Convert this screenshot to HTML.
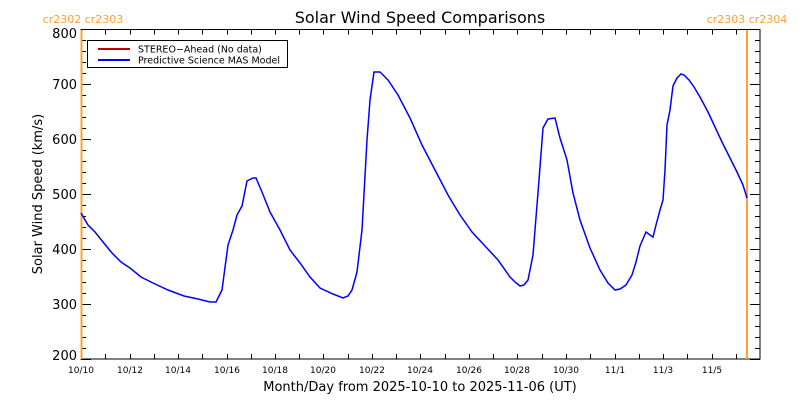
<!DOCTYPE html>
<html><head><meta charset="utf-8"><style>body{margin:0;background:#fff}svg{display:block}text{font-family:"DejaVu Sans","Liberation Sans",sans-serif}</style></head><body>
<svg width="800" height="400" xmlns="http://www.w3.org/2000/svg">
<rect width="800" height="400" fill="#fff"/>
<text x="420" y="23" font-size="16" text-anchor="middle">Solar Wind Speed Comparisons</text>
<text x="83" y="23" font-size="11" fill="#ffa030" text-anchor="middle">cr2302 cr2303</text>
<text x="747" y="23" font-size="11" fill="#ffa030" text-anchor="middle">cr2303 cr2304</text>
<rect x="81" y="29.5" width="679" height="329.5" fill="none" stroke="#000" stroke-width="1"/>
<path stroke="#000" stroke-width="1" fill="none" d="
M81 359.5h10M81 348.5h5M81 337.5h5M81 326.5h5M81 315.5h5M81 304.5h10M81 293.5h5M81 282.5h5M81 271.5h5M81 260.5h5M81 249.5h10M81 238.5h5M81 227.5h5M81 216.5h5M81 205.5h5M81 194.5h10M81 183.5h5M81 172.5h5M81 161.5h5M81 150.5h5M81 139.5h10M81 128.5h5M81 117.5h5M81 106.5h5M81 95.5h5M81 84.5h10M81 73.5h5M81 62.5h5M81 51.5h5M81 40.5h5M81 29.5h10
M760 359.5h-10M760 348.5h-5M760 337.5h-5M760 326.5h-5M760 315.5h-5M760 304.5h-10M760 293.5h-5M760 282.5h-5M760 271.5h-5M760 260.5h-5M760 249.5h-10M760 238.5h-5M760 227.5h-5M760 216.5h-5M760 205.5h-5M760 194.5h-10M760 183.5h-5M760 172.5h-5M760 161.5h-5M760 150.5h-5M760 139.5h-10M760 128.5h-5M760 117.5h-5M760 106.5h-5M760 95.5h-5M760 84.5h-10M760 73.5h-5M760 62.5h-5M760 51.5h-5M760 40.5h-5M760 29.5h-10
M105.5 359v-5M130.5 359v-5M154.5 359v-5M178.5 359v-5M202.5 359v-5M227.5 359v-5M251.5 359v-5M275.5 359v-5M299.5 359v-5M323.5 359v-5M348.5 359v-5M372.5 359v-5M396.5 359v-5M420.5 359v-5M445.5 359v-5M469.5 359v-5M493.5 359v-5M517.5 359v-5M542.5 359v-5M566.5 359v-5M590.5 359v-5M615.5 359v-5M639.5 359v-5M663.5 359v-5M687.5 359v-5M712.5 359v-5M736.5 359v-5
M105.5 29.5v5M130.5 29.5v5M154.5 29.5v5M178.5 29.5v5M202.5 29.5v5M227.5 29.5v5M251.5 29.5v5M275.5 29.5v5M299.5 29.5v5M323.5 29.5v5M348.5 29.5v5M372.5 29.5v5M396.5 29.5v5M420.5 29.5v5M445.5 29.5v5M469.5 29.5v5M493.5 29.5v5M517.5 29.5v5M542.5 29.5v5M566.5 29.5v5M590.5 29.5v5M615.5 29.5v5M639.5 29.5v5M663.5 29.5v5M687.5 29.5v5M712.5 29.5v5M736.5 29.5v5"/>
<g font-size="13" text-anchor="end">
<text x="77" y="360">200</text><text x="77" y="309">300</text><text x="77" y="254">400</text><text x="77" y="199">500</text><text x="77" y="144">600</text><text x="77" y="89">700</text><text x="77" y="38">800</text>
</g>
<g font-size="9" text-anchor="middle">
<text x="81" y="373">10/10</text><text x="130" y="373">10/12</text><text x="178" y="373">10/14</text><text x="227" y="373">10/16</text><text x="275" y="373">10/18</text><text x="323" y="373">10/20</text><text x="372" y="373">10/22</text><text x="420" y="373">10/24</text><text x="469" y="373">10/26</text><text x="517" y="373">10/28</text><text x="566" y="373">10/30</text><text x="615" y="373">11/1</text><text x="663" y="373">11/3</text><text x="712" y="373">11/5</text>
</g>
<line x1="81.5" y1="30" x2="81.5" y2="359" stroke="#ffa030" stroke-width="2"/>
<line x1="747" y1="30" x2="747" y2="359" stroke="#ffa030" stroke-width="2"/>
<polyline fill="none" stroke="#0000ff" stroke-width="1.5" points="81,213 88,225 95,232 103,242 112,253 121,262 130,268 141,277 153,283 168,290 184,296 198,299 210,302 216,302 222,290 228,245 233,230 237,215 242,206 247,181 253,178 256,178 262,192 270,212 280,230 290,250 300,263 310,277 320,288 333,294 343,298 348,296 352,290 357,272 362,230 367,140 370,100 374,72 380,72 388,80 398,95 410,118 422,145 435,170 448,195 460,215 472,232 485,246 498,260 510,277 515,282 520,286 524,285 528,280 533,255 539,180 543,128 548,119 555,118 560,138 567,160 573,193 580,220 590,248 600,270 608,283 615,290 620,289 626,285 632,275 636,262 640,246 646,232 650,235 653,237 656,225 660,210 663,200 665,170 667,125 670,110 673,86 677,78 681,74 684,75 689,80 694,87 700,97 708,112 715,127 722,142 730,158 737,172 743,185 747,198"/>
<rect x="87.5" y="40.5" width="200" height="27" fill="#fff" stroke="#000"/>
<line x1="98" y1="49" x2="130" y2="49" stroke="#c00000" stroke-width="2"/>
<line x1="98" y1="60" x2="130" y2="60" stroke="#0000ff" stroke-width="2"/>
<text x="138" y="52.5" font-size="9.5">STEREO−Ahead (No data)</text>
<text x="138" y="63.5" font-size="9.5">Predictive Science MAS Model</text>
<text x="420" y="391" font-size="13" text-anchor="middle">Month/Day from 2025-10-10 to 2025-11-06 (UT)</text>
<text transform="translate(42,194) rotate(-90)" font-size="13" text-anchor="middle">Solar Wind Speed (km/s)</text>
</svg>
</body></html>
